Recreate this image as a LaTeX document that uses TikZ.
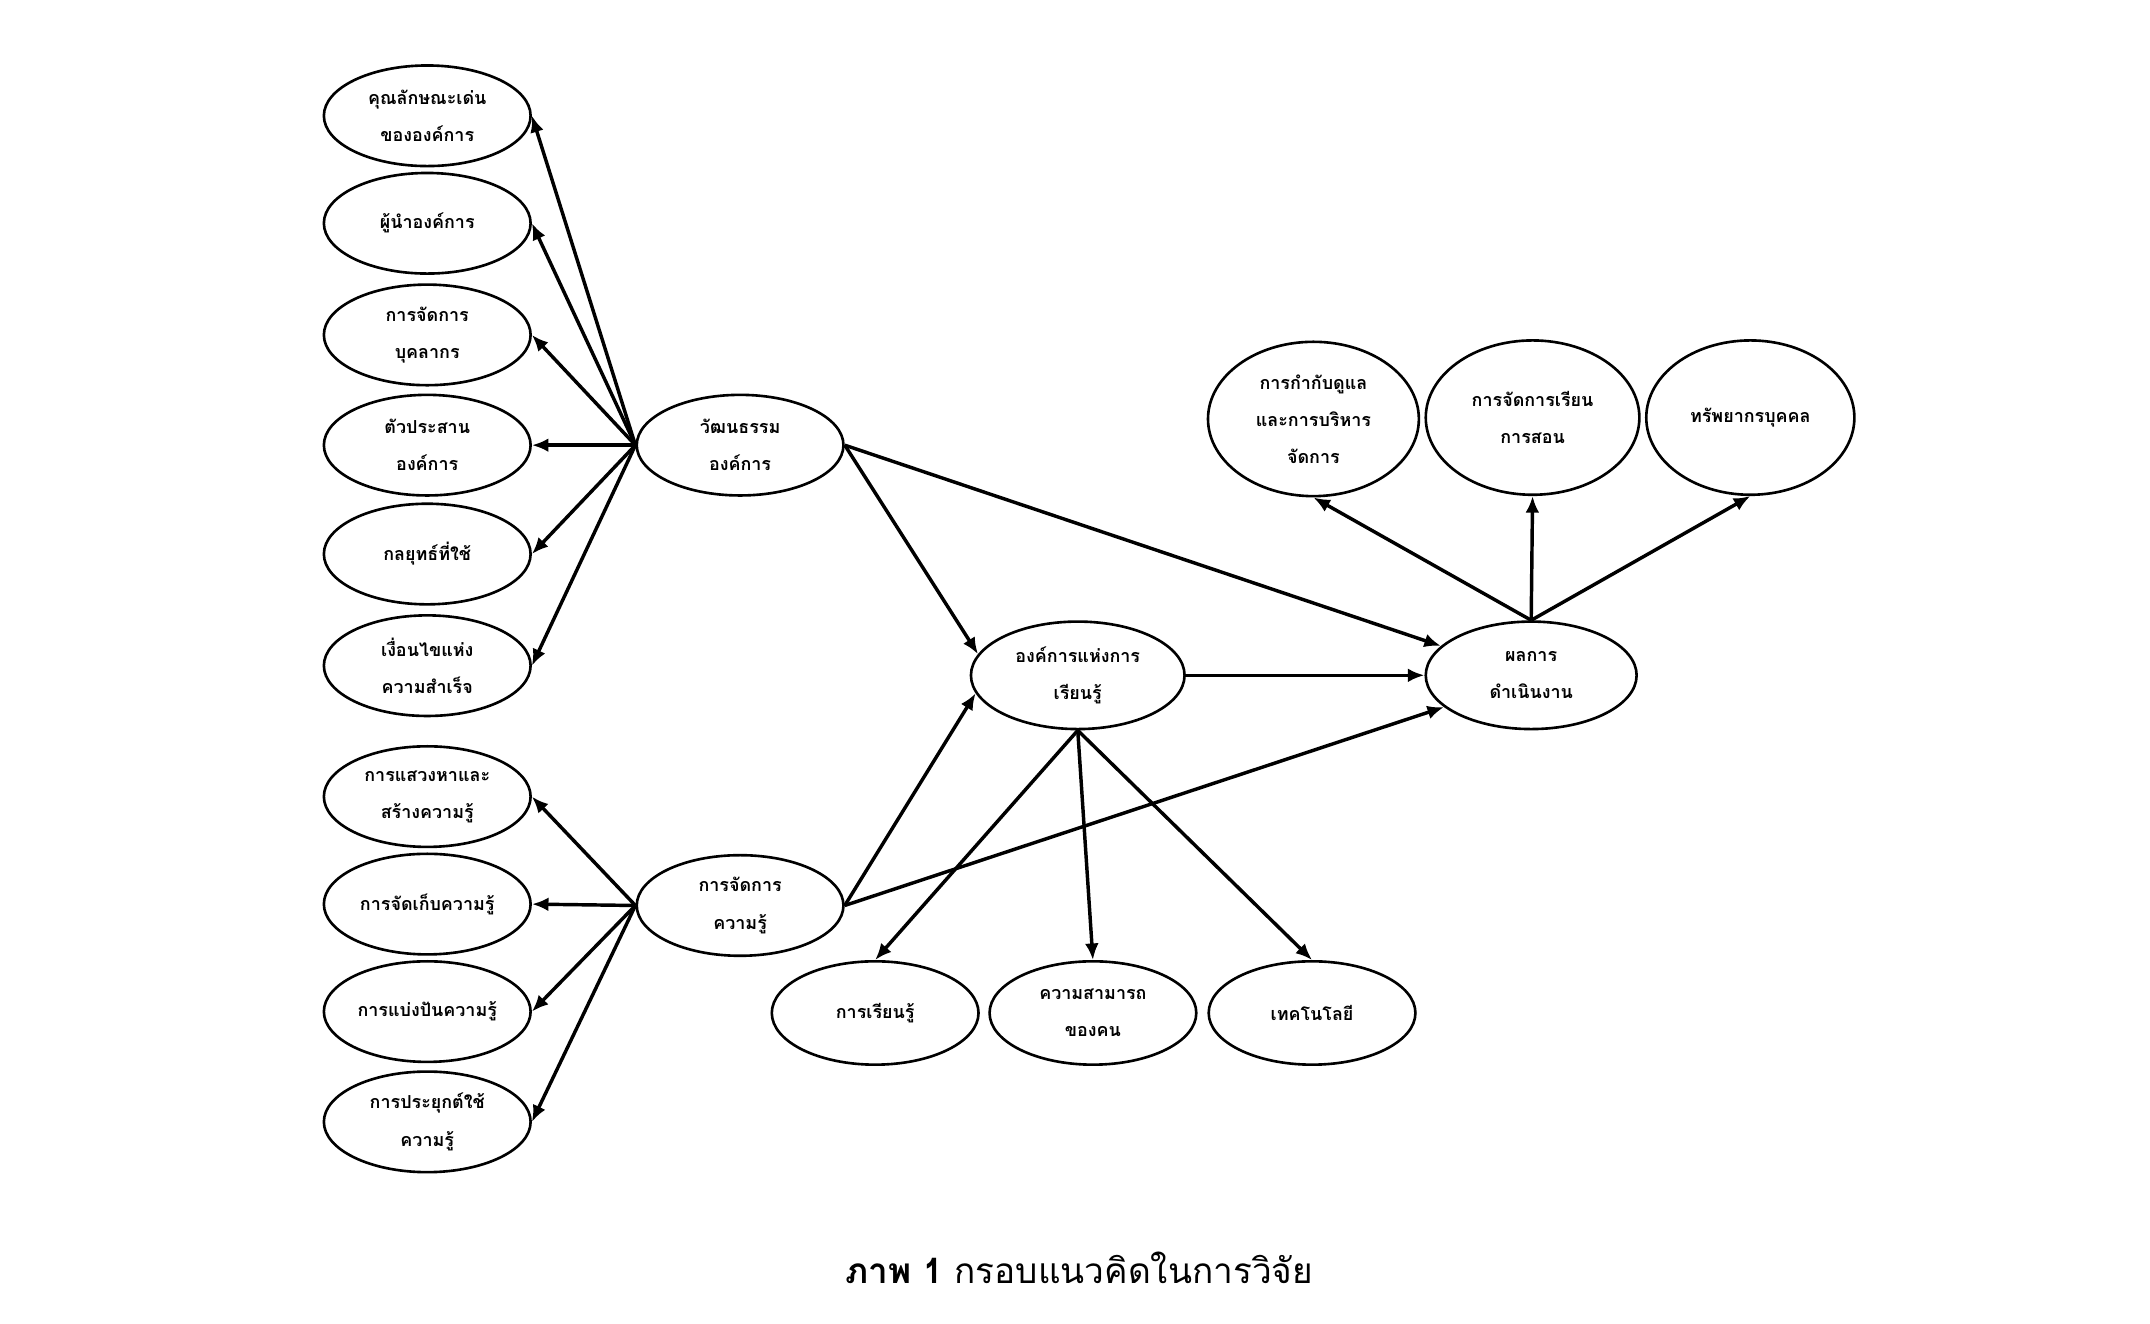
\documentclass[tikz,border=0pt]{standalone}
\usepackage{fontspec}
\newfontfamily\thai[Script=Thai]{Loma}
\usetikzlibrary{shapes.geometric,arrows.meta}
\begin{document}
\begin{tikzpicture}[x=1pt,y=-1pt,
  el/.style={draw, ellipse, line width=1.9pt, minimum width=150pt, minimum height=73pt, inner sep=0pt, align=center,
    font=\thai\bfseries\fontsize{13}{27}\selectfont},
  arr/.style={-{Latex[length=12pt,width=10pt]}, line width=2.5pt}]
\useasboundingbox (0,0) rectangle (1560,960);
% culture
\node[el] (cult) at (537,323) {วัฒนธรรม\\องค์การ};
\node[el] (c1) at (310,84) {คุณลักษณะเด่น\\ขององค์การ};
\node[el] (c2) at (310,162) {ผู้นำองค์การ};
\node[el] (c3) at (310,243) {การจัดการ\\บุคลากร};
\node[el] (c4) at (310,323) {ตัวประสาน\\องค์การ};
\node[el] (c5) at (310,402) {กลยุทธ์ที่ใช้};
\node[el] (c6) at (310,483) {เงื่อนไขแห่ง\\ความสำเร็จ};
% knowledge management
\node[el] (km) at (537,657) {การจัดการ\\ความรู้};
\node[el] (k1) at (310,578) {การแสวงหาและ\\สร้างความรู้};
\node[el] (k2) at (310,656) {การจัดเก็บความรู้};
\node[el] (k3) at (310,734) {การแบ่งปันความรู้};
\node[el] (k4) at (310,814) {การประยุกต์ใช้\\ความรู้};
% learning organisation and outcomes
\node[el, minimum width=155pt, minimum height=78pt] (lo) at (782,490) {องค์การแห่งการ\\เรียนรู้};
\node[el, minimum width=153pt, minimum height=78pt] (pl) at (1111,490) {ผลการ\\ดำเนินงาน};
\node[el, minimum width=153pt, minimum height=112pt] (t1) at (953,304) {การกำกับดูแล\\และการบริหาร\\จัดการ};
\node[el, minimum width=155pt, minimum height=112pt] (t2) at (1112,303) {การจัดการเรียน\\การสอน};
\node[el, minimum width=151pt, minimum height=112pt] (t3) at (1270,303) {ทรัพยากรบุคคล};
\node[el, minimum height=75pt] (b1) at (635,735) {การเรียนรู้};
\node[el, minimum height=75pt] (b2) at (793,735) {ความสามารถ\\ของคน};
\node[el, minimum height=75pt] (b3) at (952,735) {เทคโนโลยี};
% caption
\node[font=\thai\fontsize{25.5}{30}\selectfont] (cap) at (783,920) {\textbf{ภาพ 1} {\mdseries กรอบแนวคิดในการวิจัย}};
% arrows
\foreach \n in {c1,c2,c3,c4,c5,c6} \draw[arr] (cult.west) -- (\n.east);
\foreach \n in {k1,k2,k3,k4} \draw[arr] (km.west) -- (\n.east);
\draw[arr] (cult.east) -- (lo.168);
\draw[arr] (km.east) -- (lo.190);
\draw[arr] (lo.east) -- (pl.west);
\draw[arr] (cult.east) -- (pl.162);
\draw[arr] (km.east) -- (pl.200);
\foreach \n in {t1,t2,t3} \draw[arr] (pl.north) -- (\n.south);
\foreach \n in {b1,b2,b3} \draw[arr] (lo.south) -- (\n.north);
\end{tikzpicture}
\end{document}
